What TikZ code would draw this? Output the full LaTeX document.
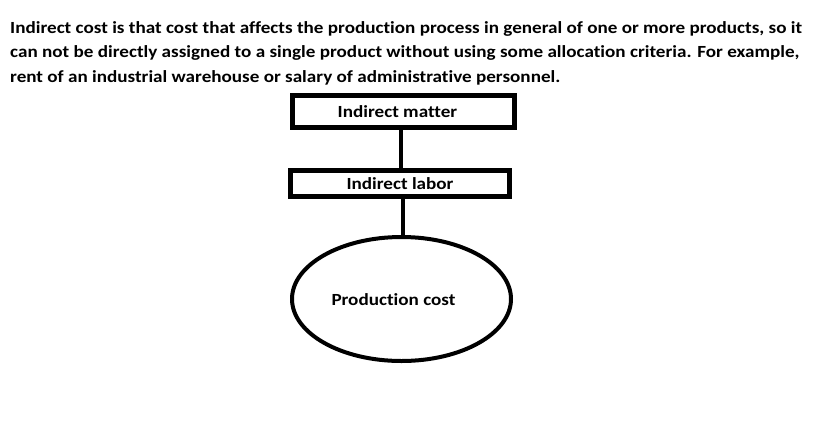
\documentclass[tikz,border=0pt]{standalone}
\usepackage{fontspec}
\setmainfont{Carlito}[FakeStretch=1.125, Ligatures=NoCommon, RawFeature=-liga]
\usetikzlibrary{shapes.geometric}
\begin{document}
\begin{tikzpicture}[x=1pt,y=-1pt,
  every node/.style={font=\fontsize{17}{20}\selectfont\bfseries},
  boxnode/.style={draw, line width=4.5pt, inner sep=0pt, minimum width=222pt, minimum height=32pt},
  ellnode/.style={draw, ellipse, line width=4pt, inner sep=0pt, minimum width=219pt, minimum height=124pt},
  conn/.style={line width=4.5pt}
]
\useasboundingbox (0,0) rectangle (830,440);
\node[anchor=base west, inner sep=0pt] (l1) at (10,33) {Indirect cost is that cost that affects the production process in general of one or more products, so it};
\node[anchor=base west, inner sep=0pt] (l2) at (10,57.5) {can not be directly assigned to a single product without using some allocation criteria. For example,};
\node[anchor=base west, inner sep=0pt] (l3) at (10,82) {rent of an industrial warehouse or salary of administrative personnel.};
\node[boxnode] (im) at (403.5,111.5) {Indirect matter\hspace*{12pt}};
\node[boxnode, minimum width=219pt, minimum height=26pt] (il) at (400,183.5) {Indirect labor};
\node[ellnode] (pc) at (401.5,299) {};
\node (pct) at (393.5,300) {Production cost};
\draw[conn] (im.south -| 401,0) -- (il.north -| 401,0);
\draw[conn] (il.south -| 403,0) -- (pc.north -| 403,0);
\end{tikzpicture}
\end{document}
